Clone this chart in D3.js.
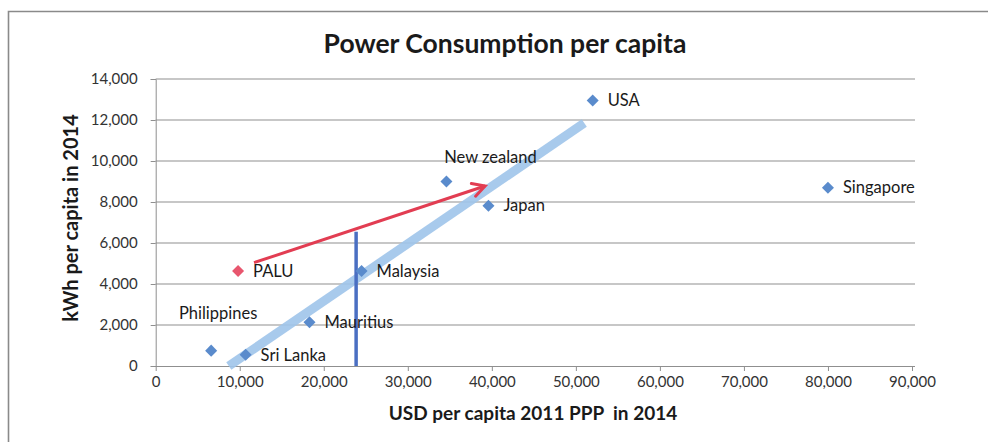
<!DOCTYPE html>
<html>
<head>
<meta charset="utf-8">
<script src="https://cdn.jsdelivr.net/npm/d3@7"></script>
<style>
  html, body { margin: 0; padding: 0; background: #fff; }
  svg { display: block; }
  text { font-family: Lato, "Open Sans", sans-serif; white-space: pre; }
</style>
</head>
<body>
<svg id="chart" width="988" height="442"></svg>
<script>
// ---- data ----
const countries = ["USA", "Singapore", "New zealand", "Japan", "Malaysia", "PALU", "Mauritius", "Philippines", "Sri Lanka"];
const gdpPerCapita = [52000, 80000, 34600, 39600, 24500, 9800, 18300, 6600, 10700];
const kwhPerCapita = [12950, 8700, 9000, 7820, 4630, 4630, 2130, 750, 550];
const highlight = ["PALU"];
const xTicks = [0, 10000, 20000, 30000, 40000, 50000, 60000, 70000, 80000, 90000];
const yTicks = [0, 2000, 4000, 6000, 8000, 10000, 12000, 14000];
const trendX = [8700, 51000];
const trendY = [0, 11850];
const arrowX = [11700, 39200];
const arrowY = [5040, 8780];
const refLineX = [23850, 23850];
const refLineY = [0, 6550];
const titleText = "Power Consumption per capita";
const xTitle = "USD per capita 2011 PPP  in 2014";
const yTitle = "kWh per capita in 2014";

// ---- layout ----
const svg = d3.select("#chart");
const x = d3.scaleLinear().domain([0, 90000]).range([155.7, 912]);
const y = d3.scaleLinear().domain([0, 14000]).range([366, 79]);
const fmt = d3.format(",");

// outer frame
svg.append("path")
  .attr("d", "M8.5,442 L8.5,11.5 L988,11.5")
  .attr("fill", "none").attr("stroke", "#8a8a8a").attr("stroke-width", 1.6);

// title
svg.append("text").attr("x", 505).attr("y", 53).attr("text-anchor", "middle")
  .attr("font-size", 26.5).attr("font-weight", 700).attr("fill", "#1a1a1a").text(titleText);

// gridlines
svg.append("g").selectAll("line").data(yTicks.filter(d => d > 0)).join("line")
  .attr("x1", x(0)).attr("x2", x(90000) + 3)
  .attr("y1", d => y(d)).attr("y2", d => y(d))
  .attr("stroke", "#8f8f8f").attr("stroke-width", 1);

// y axis
const yAxis = svg.append("g").attr("transform", `translate(${x(0)},0)`)
  .call(d3.axisLeft(y).tickValues(yTicks).tickFormat(fmt).tickSize(5).tickPadding(13));
// x axis
const xAxis = svg.append("g").attr("transform", `translate(0,${y(0)})`)
  .call(d3.axisBottom(x).tickValues(xTicks).tickFormat(fmt).tickSize(5).tickPadding(5));
[yAxis, xAxis].forEach(g => {
  g.select(".domain").attr("stroke", "#8f8f8f");
  g.selectAll(".tick line").attr("stroke", "#8f8f8f");
  g.selectAll(".tick text").attr("font-size", 15).attr("fill", "#333")
    .attr("font-family", "Lato, sans-serif");
});
xAxis.select(".domain").attr("d", `M${x(0)},0.5H${x(90000) + 3}`);

// axis titles
svg.append("text").attr("x", 533).attr("y", 420).attr("text-anchor", "middle")
  .attr("font-size", 19).attr("font-weight", 700).attr("fill", "#1a1a1a").text(xTitle);
svg.append("text").attr("transform", "translate(78,218) rotate(-90)").attr("text-anchor", "middle")
  .attr("font-size", 20).attr("font-weight", 700).attr("fill", "#1a1a1a").text(yTitle);

// trend line (thick light blue)
svg.append("line")
  .attr("x1", x(trendX[0])).attr("y1", y(trendY[0]))
  .attr("x2", x(trendX[1])).attr("y2", y(trendY[1]))
  .attr("stroke", "#9ec4ea").attr("stroke-opacity", 0.9).attr("stroke-width", 9);

// vertical reference line
svg.append("line")
  .attr("x1", x(refLineX[0])).attr("y1", y(refLineY[0]))
  .attr("x2", x(refLineX[1])).attr("y2", y(refLineY[1]))
  .attr("stroke", "#4a6fc2").attr("stroke-width", 3.5);

// red arrow
const ax1 = x(arrowX[0]), ay1 = y(arrowY[0]), ax2 = x(arrowX[1]), ay2 = y(arrowY[1]);
const ang = Math.atan2(ay2 - ay1, ax2 - ax1);
const headLen = 14, headAng = 0.5;
svg.append("line").attr("x1", ax1).attr("y1", ay1).attr("x2", ax2).attr("y2", ay2)
  .attr("stroke", "#e23d52").attr("stroke-width", 3);
svg.append("path")
  .attr("d", `M${ax2 - headLen * Math.cos(ang - headAng)},${ay2 - headLen * Math.sin(ang - headAng)} L${ax2},${ay2} L${ax2 - headLen * Math.cos(ang + headAng)},${ay2 - headLen * Math.sin(ang + headAng)}`)
  .attr("fill", "none").attr("stroke", "#e23d52").attr("stroke-width", 3)
  .attr("stroke-linejoin", "miter").attr("stroke-linecap", "round");

// points
const pts = countries.map((c, i) => ({ c, gx: gdpPerCapita[i], ky: kwhPerCapita[i] }));
const sym = d3.symbol().type(d3.symbolDiamond2).size(92);
svg.append("g").selectAll("path").data(pts).join("path")
  .attr("transform", d => `translate(${x(d.gx)},${y(d.ky)})`)
  .attr("d", sym)
  .attr("fill", d => highlight.includes(d.c) ? "#e8566e" : "#5a8bcc");

// labels
const labelPos = {
  "New zealand": { dx: 44, dy: -24, anchor: "middle" },
  "Philippines": { dx: 7, dy: -37, anchor: "middle" }
};
svg.append("g").selectAll("text").data(pts).join("text")
  .attr("x", d => x(d.gx) + (labelPos[d.c] ? labelPos[d.c].dx : 15))
  .attr("y", d => y(d.ky) + (labelPos[d.c] ? labelPos[d.c].dy : 0))
  .attr("dy", "0.35em")
  .attr("text-anchor", d => labelPos[d.c] ? labelPos[d.c].anchor : "start")
  .attr("font-size", 16.5).attr("fill", "#1a1a1a")
  .text(d => d.c);
</script>
</body>
</html>
